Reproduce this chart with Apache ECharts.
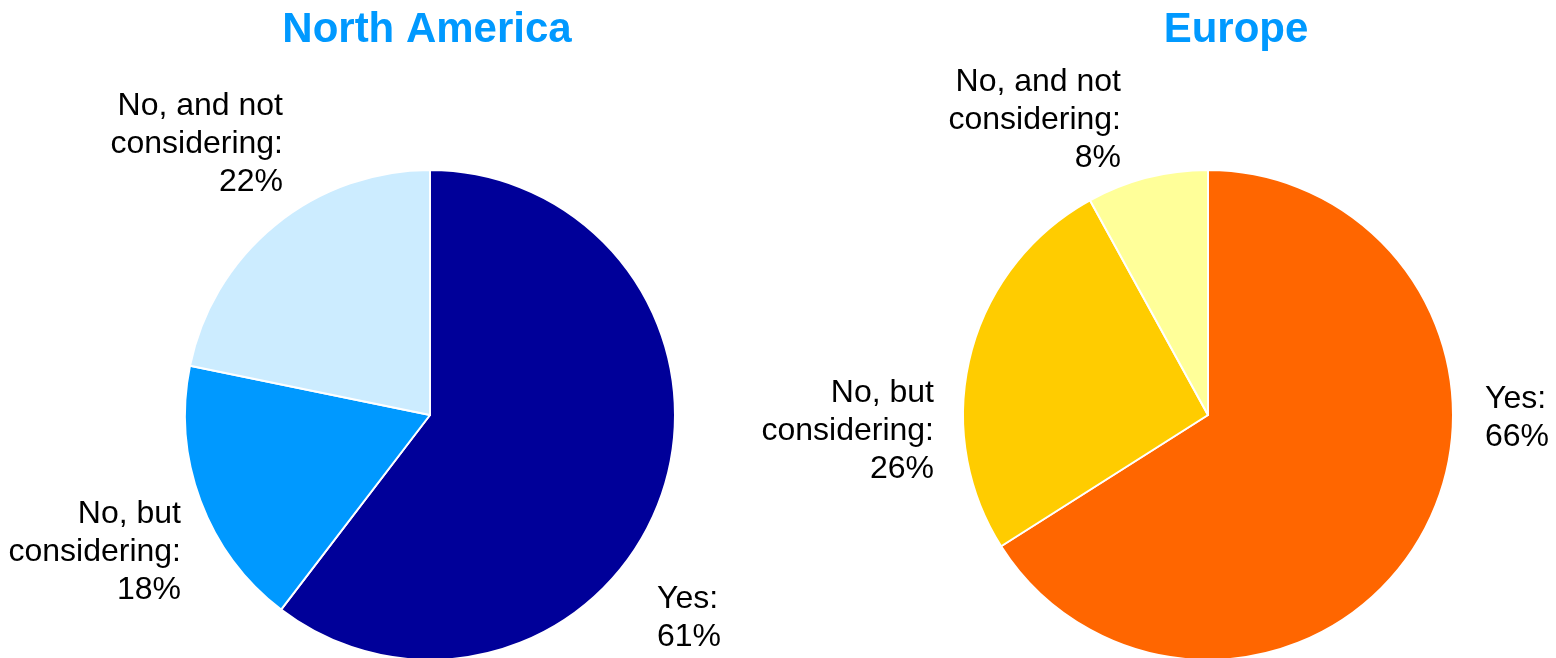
<!DOCTYPE html>
<html>
<head>
<meta charset="utf-8">
<script src="https://cdn.jsdelivr.net/npm/echarts@6/dist/echarts.min.js"></script>
<style>
  html, body { margin: 0; padding: 0; background: #fff; }
  #chart { width: 1556px; height: 658px; }
</style>
</head>
<body>
<div id="chart"></div>
<script>
// Survey answers per region, in percent
const categories = ['Yes', 'No, but\nconsidering', 'No, and not\nconsidering'];
const regions = ['North America', 'Europe'];
const northAmerica = [61, 18, 22];
const europe = [66, 26, 8];

const FONT = '"Liberation Sans", Arial, Helvetica, sans-serif';

// Pie placement and slice colours for each region
const layouts = [
  {
    center: [430, 415],
    title: [422, 4],
    colors: ['#000099', '#0099FF', '#CCECFF'],
    // label anchor offsets from the pie centre, with alignment
    labels: [
      { dx: 227, dy: 203, align: 'left' },
      { dx: -249, dy: 137, align: 'right' },
      { dx: -147, dy: -271, align: 'right' }
    ]
  },
  {
    center: [1208, 415],
    title: [1231, 4],
    colors: ['#FF6600', '#FFCC00', '#FFFF99'],
    labels: [
      { dx: 277, dy: 3, align: 'left' },
      { dx: -274, dy: 16, align: 'right' },
      { dx: -87, dy: -295, align: 'right' }
    ]
  }
];

const seriesValues = [northAmerica, europe];

const chart = echarts.init(document.getElementById('chart'), null, { renderer: 'canvas' });

const series = seriesValues.map((values, si) => {
  const lay = layouts[si];
  return {
    type: 'pie',
    name: regions[si],
    center: lay.center,
    radius: [0, 245],
    startAngle: 90,
    clockwise: true,
    animation: false,
    silent: true,
    data: values.map((v, i) => ({
      name: categories[i],
      value: v,
      itemStyle: { color: lay.colors[i] }
    })),
    itemStyle: { borderColor: '#ffffff', borderWidth: 2 },
    label: {
      show: true,
      position: 'outside',
      formatter: p => p.name + ':\n' + p.value + '%',
      fontFamily: FONT,
      fontSize: 32,
      lineHeight: 38,
      color: '#000000',
      overflow: 'none'
    },
    labelLine: { show: false },
    labelLayout: p => {
      const l = lay.labels[p.dataIndex];
      return {
        x: lay.center[0] + l.dx,
        y: lay.center[1] + l.dy,
        align: l.align,
        verticalAlign: 'middle'
      };
    }
  };
});

chart.setOption({
  backgroundColor: '#ffffff',
  title: regions.map((r, i) => ({
    text: r,
    left: layouts[i].title[0],
    top: layouts[i].title[1],
    textAlign: 'center',
    textStyle: {
      fontFamily: FONT,
      fontSize: 42,
      fontWeight: 'bold',
      color: '#0099FF'
    }
  })),
  series: series
});
</script>
</body>
</html>
